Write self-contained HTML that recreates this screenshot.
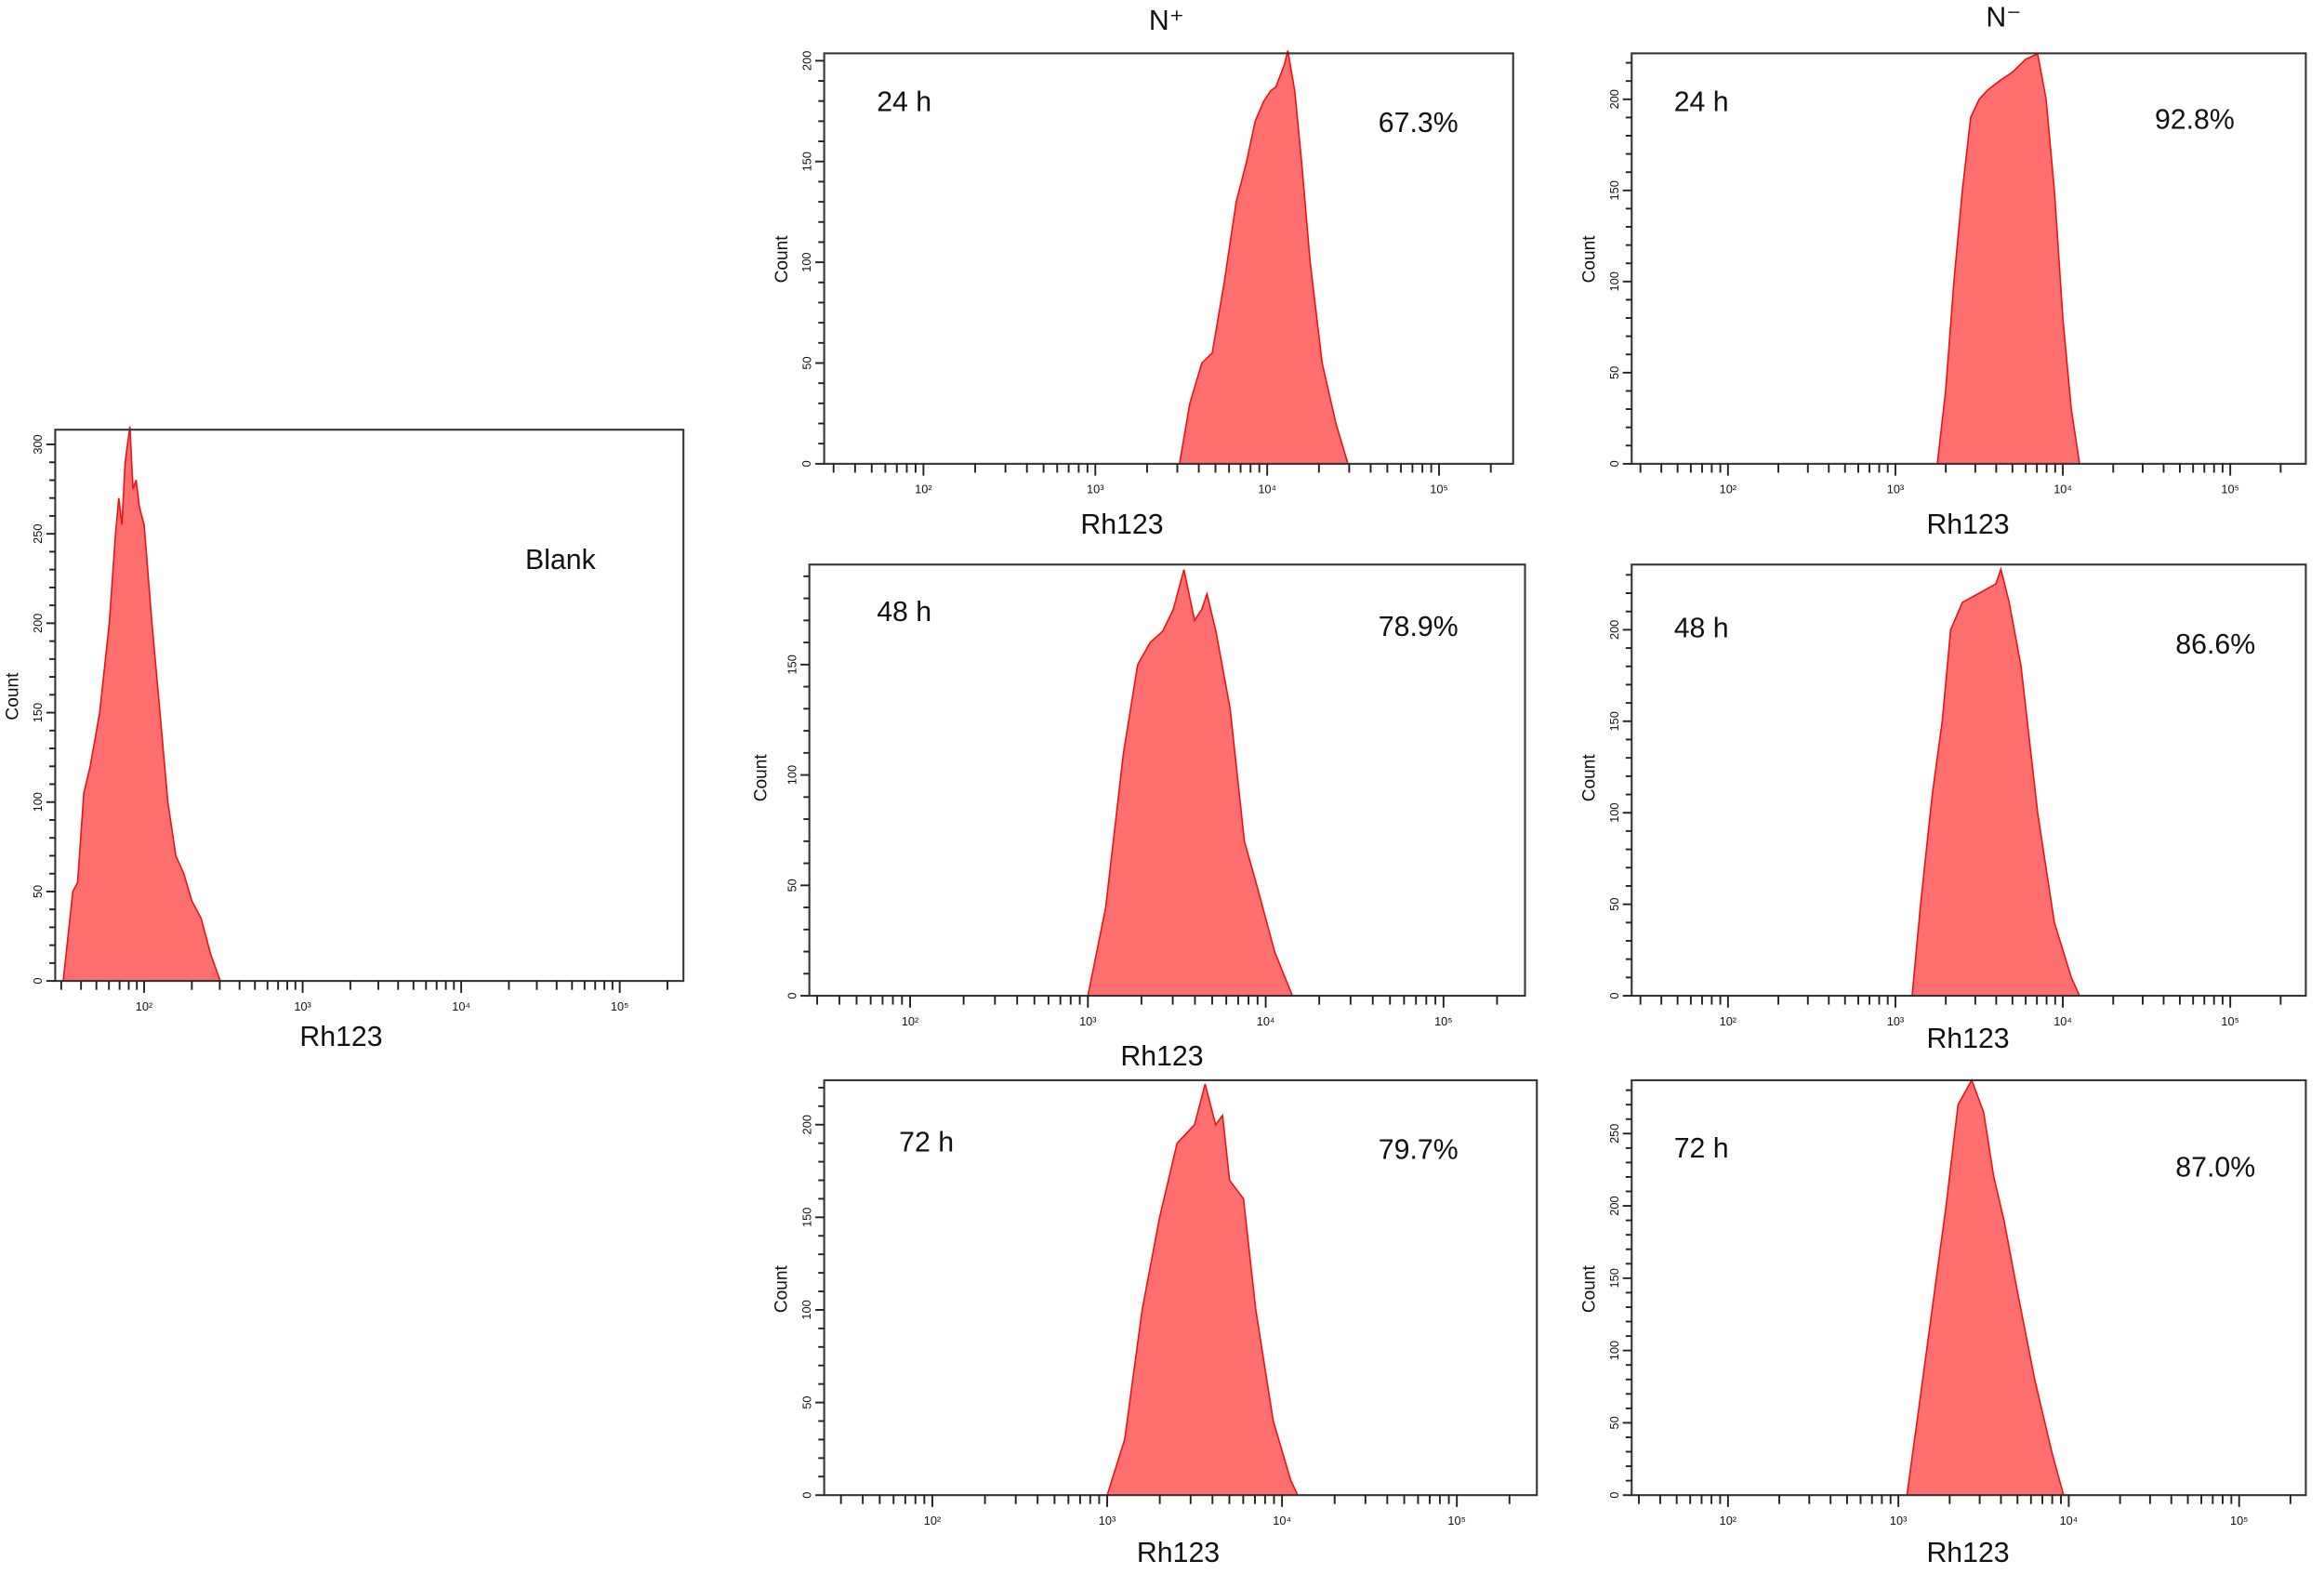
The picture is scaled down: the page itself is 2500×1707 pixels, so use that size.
<!DOCTYPE html>
<html><head><meta charset="utf-8">
<style>
html,body{margin:0;padding:0;background:#fff;}
svg{display:block;}
text{font-family:"Liberation Sans",sans-serif;fill:#111;}
</style></head>
<body>
<svg id="fig" width="2500" height="1707" viewBox="0 0 1568 1071" xmlns="http://www.w3.org/2000/svg">
<text x="787" y="20" font-size="19" text-anchor="middle">N⁺</text>
<text x="1352" y="18" font-size="19" text-anchor="middle">N⁻</text>
</svg>
<script>
// Histogram data: log10(Rh123) positions and counts per panel
const blankLog = [1.49,1.55,1.58,1.62,1.66,1.72,1.78,1.82,1.84,1.86,1.88,1.91,1.93,1.95,1.97,2.0,2.05,2.1,2.15,2.2,2.25,2.3,2.36,2.42,2.48];
const blankCount = [0,50,55,105,120,150,200,250,270,255,290,310,275,280,265,255,200,150,100,70,60,45,35,15,0];
const np24Log = [3.49,3.55,3.62,3.68,3.75,3.82,3.88,3.93,3.98,4.02,4.05,4.1,4.12,4.16,4.2,4.25,4.32,4.4,4.47];
const np24Count = [0,30,50,55,90,130,150,170,180,185,187,198,205,185,150,100,50,20,0];
const nm24Log = [3.25,3.3,3.35,3.4,3.45,3.5,3.55,3.62,3.7,3.78,3.85,3.9,3.95,4.0,4.05,4.1];
const nm24Count = [0,40,100,150,190,200,205,210,215,222,225,200,150,80,30,0];
const np48Log = [3.0,3.1,3.2,3.28,3.35,3.42,3.48,3.54,3.6,3.64,3.67,3.72,3.8,3.88,3.95,4.05,4.15];
const np48Count = [0,40,110,150,160,165,175,193,170,175,182,165,130,70,50,20,0];
const nm48Log = [3.1,3.15,3.22,3.28,3.33,3.4,3.5,3.6,3.63,3.68,3.75,3.85,3.95,4.05,4.1];
const nm48Count = [0,50,110,150,200,215,220,225,233,215,180,100,40,10,0];
const np72Log = [3.0,3.1,3.2,3.3,3.4,3.5,3.56,3.62,3.66,3.7,3.78,3.85,3.95,4.05,4.09];
const np72Count = [0,30,100,150,190,200,222,200,205,170,160,100,40,8,0];
const nm72Log = [3.05,3.12,3.2,3.28,3.35,3.43,3.5,3.56,3.62,3.7,3.8,3.9,3.97];
const nm72Count = [0,60,130,200,270,287,265,220,190,140,80,30,0];
const xTickLabels = ["10²","10³","10⁴","10⁵"];
const panelLabels = ["Blank","24 h","24 h","48 h","48 h","72 h","72 h"];
const percentLabels = ["","67.3%","92.8%","78.9%","86.6%","79.7%","87.0%"];

const NS = "http://www.w3.org/2000/svg";
const svg = document.getElementById('fig');
function mk(tag, attrs, parent){
  const e = document.createElementNS(NS, tag);
  for (const k in attrs) e.setAttribute(k, attrs[k]);
  (parent||svg).appendChild(e);
  return e;
}
// layout: frame, x pixel of 10^2, decade px, baseline, px per count, y max tick
const panels = [
 {name:'blank', L:37,R:461,T:290,B:662, x2:97, dec:107, ppc:1.207, ymax:300, logs:blankLog, counts:blankCount, cx:8, cy:470, rx:230, ry:706, lx:378, ly:384, lanchor:'middle', px:0, py:0},
 {name:'n-plus-24h', L:556,R:1021,T:36,B:313, x2:623, dec:116, ppc:1.36, ymax:200, logs:np24Log, counts:np24Count, cx:527, cy:175, rx:757, ry:360, lx:610, ly:75, lanchor:'middle', px:957, py:89},
 {name:'n-minus-24h', L:1101,R:1556,T:36,B:313, x2:1166, dec:113, ppc:1.23, ymax:200, logs:nm24Log, counts:nm24Count, cx:1072, cy:175, rx:1328, ry:360, lx:1148, ly:75, lanchor:'middle', px:1481, py:87},
 {name:'n-plus-48h', L:546,R:1029,T:381,B:672, x2:614, dec:120, ppc:1.49, ymax:150, logs:np48Log, counts:np48Count, cx:513, cy:525, rx:784, ry:719, lx:610, ly:419, lanchor:'middle', px:957, py:429},
 {name:'n-minus-48h', L:1101,R:1556,T:381,B:672, x2:1166, dec:113, ppc:1.235, ymax:200, logs:nm48Log, counts:nm48Count, cx:1072, cy:525, rx:1328, ry:707, lx:1148, ly:430, lanchor:'middle', px:1495, py:441},
 {name:'n-plus-72h', L:556,R:1037,T:729,B:1009, x2:629, dec:118, ppc:1.25, ymax:200, logs:np72Log, counts:np72Count, cx:527, cy:870, rx:795, ry:1054, lx:625, ly:777, lanchor:'middle', px:957, py:782},
 {name:'n-minus-72h', L:1101,R:1556,T:729,B:1009, x2:1166, dec:115, ppc:0.976, ymax:250, logs:nm72Log, counts:nm72Count, cx:1072, cy:870, rx:1328, ry:1054, lx:1148, ly:781, lanchor:'middle', px:1495, py:794}
];

panels.forEach((p, i) => {
  const g = mk('g', {});
  
  
  const xs = v => p.x2 + (v - 2) * p.dec;
  const ys = c => p.B - c * p.ppc;
  // histogram
  let d = '';
  p.logs.forEach((lv, k) => { d += (k ? 'L' : 'M') + xs(lv).toFixed(1) + ',' + ys(p.counts[k]).toFixed(1); });
  d += 'Z';
  const h = mk('path', {d: d, fill: '#ff6f6f', stroke: '#ee1111', 'stroke-width': 1}, g);
  
  
  // frame
  const fr = mk('rect', {x:p.L, y:p.T, width:p.R-p.L, height:p.B-p.T, fill:'none', stroke:'#333', 'stroke-width':1.3}, g);
  
  
  // x ticks (log minor)
  const xa = mk('g', {stroke:'#222', 'stroke-width':1.2}, g);
  
  
  const lmin = 2 - (p.x2 - p.L) / p.dec, lmax = 2 + (p.R - p.x2) / p.dec;
  for (let e = 1; e <= 5; e++) {
    for (let m = 1; m <= 9; m++) {
      const lv = e + Math.log10(m);
      if (lv < lmin + 0.02 || lv > lmax - 0.01) continue;
      const px = xs(lv);
      mk('line', {x1:px, x2:px, y1:p.B, y2:p.B + (m===1?8:6)}, xa);
    }
  }
  xTickLabels.forEach((t, k) => {
    const tx = mk('text', {x: xs(k + 2), y: p.B + 20, 'font-size': 8, 'text-anchor':'middle'}, g);
    tx.textContent = t;
    
    
  });
  // y ticks
  const ya = mk('g', {stroke:'#222', 'stroke-width':1.2}, g);
  
  
  for (let c = 0; ys(c) > p.T + 2; c += 10) {
    mk('line', {x1:p.L - (c % 50 === 0 ? 6 : 4), x2:p.L, y1:ys(c), y2:ys(c)}, ya);
  }
  for (let c = 0; c <= p.ymax; c += 50) {
    const tx = mk('text', {x: p.L - 9, y: ys(c), 'font-size': 8, 'text-anchor':'middle', transform:`rotate(-90 ${p.L-9} ${ys(c)})`}, g);
    tx.textContent = String(c);
    
    
  }
  // axis titles
  const ct = mk('text', {x:p.cx, y:p.cy, 'font-size':12, 'text-anchor':'middle', transform:`rotate(-90 ${p.cx} ${p.cy})`, dy:4}, g);
  ct.textContent = 'Count';
  
  
  const rt = mk('text', {x:p.rx, y:p.ry, 'font-size':19, 'text-anchor':'middle'}, g);
  rt.textContent = 'Rh123';
  
  
  const lt = mk('text', {x:p.lx, y:p.ly, 'font-size':19, 'text-anchor':p.lanchor}, g);
  lt.textContent = panelLabels[i];
  
  
  if (percentLabels[i]) {
    const pt = mk('text', {x:p.px, y:p.py, 'font-size':19, 'text-anchor':'middle'}, g);
    pt.textContent = percentLabels[i];
    
    
  }
});
</script>
</body></html>
